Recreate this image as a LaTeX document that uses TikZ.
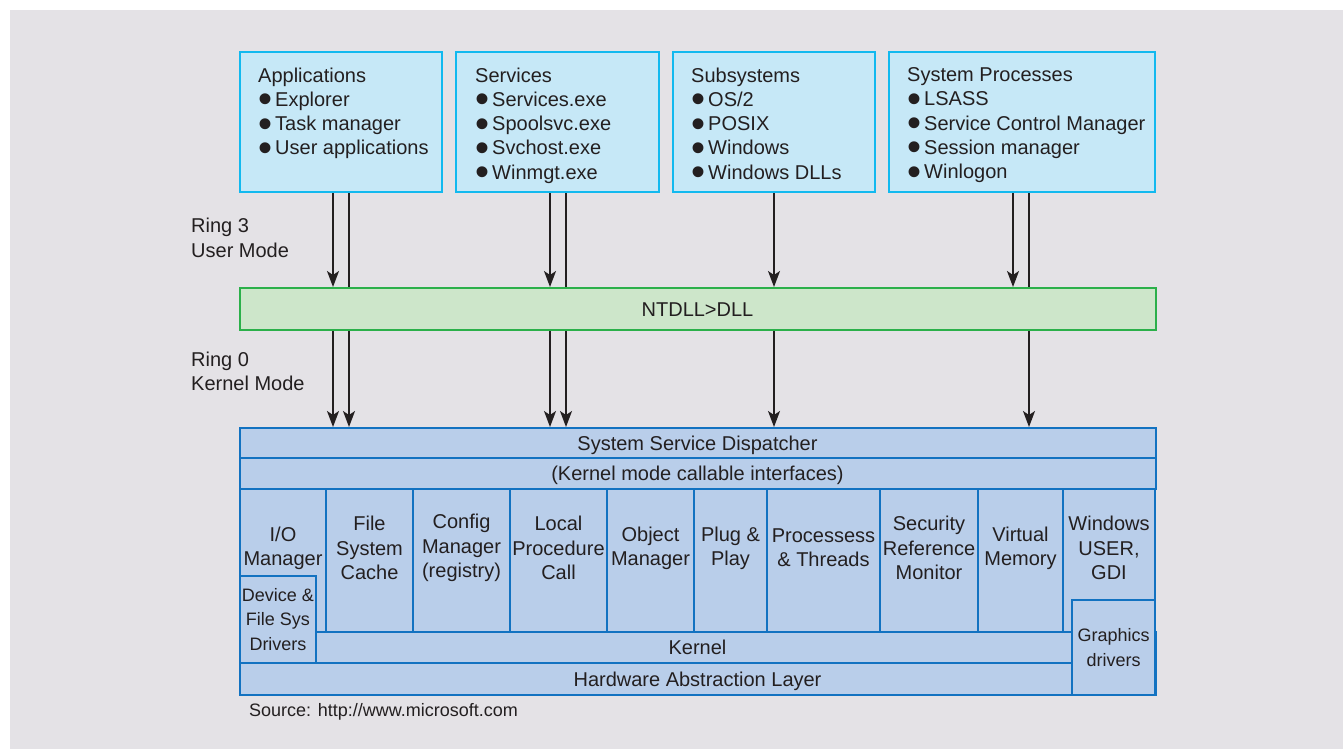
\documentclass[tikz,border=0pt]{standalone}
\usepackage{fontspec}
\usepackage{graphicx}
\setmainfont{Liberation Sans}
\usetikzlibrary{arrows.meta}

\definecolor{bggray}{HTML}{E4E2E6}
\definecolor{userfill}{HTML}{C6E8F7}
\definecolor{userline}{HTML}{12B9EF}
\definecolor{dllfill}{HTML}{CDE6CA}
\definecolor{dllline}{HTML}{2BB04A}
\definecolor{kfill}{HTML}{B9CEEA}
\definecolor{kline}{HTML}{1272C1}
\definecolor{ink}{HTML}{231F20}

\newcommand{\bodyfont}{\fontsize{20}{24.3}\selectfont}
\newcommand{\itm}{\makebox[17pt][l]{\smash{\raisebox{-6.4pt}{\scalebox{2}{\textbullet}}}}}

\tikzset{
  userbox/.style={draw=userline, fill=userfill, line width=2pt, minimum height=140pt, inner sep=0pt},
  listtxt/.style={anchor=north west, align=left, inner sep=0pt, font=\bodyfont},
  ringtxt/.style={anchor=west, align=left, inner sep=0pt, font=\bodyfont},
  dllbar/.style={draw=dllline, fill=dllfill, line width=2pt, minimum width=916pt, minimum height=42pt,
    text height=14.3pt, text depth=0pt, font=\bodyfont},
  cell/.style={draw=kline, fill=kfill, line width=2pt, inner sep=0pt, align=center, font=\bodyfont},
  layer/.style={cell, minimum width=916pt, text height=14.3pt, text depth=0pt},
  celltxt/.style={align=center, inner sep=0pt, font=\bodyfont},
  call/.style={draw=ink, line width=1.6pt, -{Stealth[length=16pt, width=12pt, inset=4pt]}},
  pass/.style={draw=ink, line width=1.6pt}
}

\begin{document}
\begin{tikzpicture}[x=1pt, y=-1pt, every node/.append style={text=ink}]
    % Background
    \useasboundingbox (0,0) rectangle (1343,749);
    \fill[bggray] (10,10) rectangle (1343,749);

    % User mode processes
    \node[userbox, minimum width=202pt] (apps) at (340.5,122) {};
    \node[userbox, minimum width=203pt] (svcs) at (557.5,122) {};
    \node[userbox, minimum width=202pt] (subsys) at (774,122) {};
    \node[userbox, minimum width=266pt] (sysproc) at (1022.3,122) {};
    \node[listtxt] (appsText) at (258,67.4) {Applications\\\itm Explorer\\\itm Task manager\\\itm User applications};
    \node[listtxt] (svcsText) at (475,67.4) {Services\\\itm Services.exe\\\itm Spoolsvc.exe\\\itm Svchost.exe\\\itm Winmgt.exe};
    \node[listtxt] (subsysText) at (691,67.4) {Subsystems\\\itm OS/2\\\itm POSIX\\\itm Windows\\\itm Windows DLLs};
    \node[listtxt] (sysprocText) at (907,67.4) {System Processes\\\itm LSASS\\\itm Service Control Manager\\\itm Session manager\\\itm Winlogon};

    % Ring labels
    \node[ringtxt] (ring3) at (191,238) {Ring 3\\User Mode};
    \node[ringtxt] (ring0) at (191,371) {Ring 0\\Kernel Mode};

    % NTDLL
    \node[dllbar] (ntdll) at (697.5,309) {NTDLL>DLL};

    % Kernel mode layers
    \node[layer, minimum height=30pt] (ssd) at (697.5,443) {System Service Dispatcher};
    \node[layer, minimum height=31pt] (kmci) at (697.5,473.5) {(Kernel mode callable interfaces)};
    \node[layer, minimum height=31pt] (kernel) at (697.5,647.5) {Kernel};
    \node[layer, minimum height=32pt] (hal) at (697.5,679) {Hardware Abstraction Layer};

    % Executive components
    \node[cell, minimum width=86pt, minimum height=143pt] (io) at (283,560.5) {};
    \node[cell, minimum width=87pt, minimum height=143pt] (fsc) at (369.5,560.5) {};
    \node[cell, minimum width=97pt, minimum height=143pt] (cfg) at (461.5,560.5) {};
    \node[cell, minimum width=97pt, minimum height=143pt] (lpc) at (558.5,560.5) {};
    \node[cell, minimum width=87pt, minimum height=143pt] (obj) at (650.5,560.5) {};
    \node[cell, minimum width=73pt, minimum height=143pt] (pnp) at (730.5,560.5) {};
    \node[cell, minimum width=113pt, minimum height=143pt] (proc) at (823.5,560.5) {};
    \node[cell, minimum width=98pt, minimum height=143pt] (srm) at (929,560.5) {};
    \node[cell, minimum width=85pt, minimum height=143pt] (vm) at (1020.5,560.5) {};
    \node[cell, minimum width=92pt, minimum height=143pt] (win) at (1109,560.5) {};
    \node[celltxt] (ioText) at (283,548) {I/O\\Manager};
    \node[celltxt] (fscText) at (369.5,548) {File\\System\\Cache};
    \node[celltxt] (cfgText) at (461.5,548) {Config\\Manager\\(registry)};
    \node[celltxt] (lpcText) at (558.5,548) {Local\\Procedure\\Call};
    \node[celltxt] (objText) at (650.5,548) {Object\\Manager};
    \node[celltxt] (pnpText) at (730.5,548) {Plug \&\\Play};
    \node[celltxt] (procText) at (823.5,548) {Processess\\\& Threads};
    \node[celltxt] (srmText) at (929,548) {Security\\Reference\\Monitor};
    \node[celltxt] (vmText) at (1020.5,548) {Virtual\\Memory};
    \node[celltxt] (winText) at (1109,548) {Windows\\USER,\\GDI};

    % Drivers
    \node[cell, minimum width=76pt, minimum height=87pt, font=\fontsize{18}{24.5}\selectfont] (devdrv) at (278,619.5) {Device \&\\File Sys\\Drivers};
    \node[cell, minimum width=83pt, minimum height=95pt, font=\fontsize{18}{24.5}\selectfont] (gfxdrv) at (1113.5,647.5) {Graphics\\drivers};

    % Calls into NTDLL
    \draw[call] (apps.south -| 333,0) -- (ntdll.north -| 333,0);
    \draw[pass] (apps.south -| 349,0) -- (ntdll.north -| 349,0);
    \draw[call] (svcs.south -| 550,0) -- (ntdll.north -| 550,0);
    \draw[pass] (svcs.south -| 566,0) -- (ntdll.north -| 566,0);
    \draw[call] (subsys.south -| 774,0) -- (ntdll.north -| 774,0);
    \draw[call] (sysproc.south -| 1013,0) -- (ntdll.north -| 1013,0);
    \draw[pass] (sysproc.south -| 1029,0) -- (ntdll.north -| 1029,0);

    % Calls into the kernel
    \draw[call] (ntdll.south -| 333,0) -- (ssd.north -| 333,0);
    \draw[call] (ntdll.south -| 349,0) -- (ssd.north -| 349,0);
    \draw[call] (ntdll.south -| 550,0) -- (ssd.north -| 550,0);
    \draw[call] (ntdll.south -| 566,0) -- (ssd.north -| 566,0);
    \draw[call] (ntdll.south -| 774,0) -- (ssd.north -| 774,0);
    \draw[call] (ntdll.south -| 1029,0) -- (ssd.north -| 1029,0);

    % Source
    \node[anchor=west, inner sep=0pt, font=\fontsize{18}{20}\selectfont] (source) at (249,712) {Source: http://www.microsoft.com};
\end{tikzpicture}
\end{document}
